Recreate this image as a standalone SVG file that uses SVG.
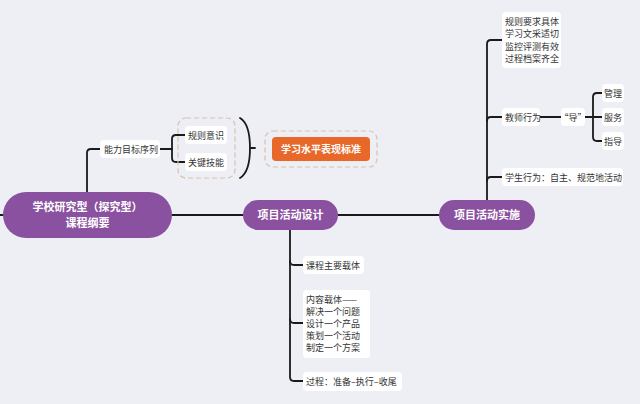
<svg xmlns="http://www.w3.org/2000/svg" width="640" height="404" viewBox="0 0 640 404">
<style>
.bg{fill:#eeeff4}
.pill{fill:#8a51a0}
.pt{font-family:"Noto Sans CJK SC",sans-serif;font-size:11px;font-weight:bold;fill:#fff;text-anchor:middle}
.lb{fill:#fff}
.t{font-family:"Noto Sans CJK SC",sans-serif;font-size:9px;fill:#333}
.c{fill:none;stroke:#1a1a1a;stroke-width:1.8;stroke-linecap:round}
.dash{fill:none;stroke:#d8c2ae;stroke-width:1.2;stroke-dasharray:5 3}
</style>
<rect class="bg" x="0" y="0" width="640" height="404"/>
<g id="connectors">
<path class="c" d="M0,215 H4"/>
<path class="c" d="M172,215 H243"/>
<path class="c" d="M338,215 H439"/>
<path class="c" d="M87,192 V153 Q87,149 91,149 H100"/>
<path class="c" d="M160,149 H172"/>
<path class="c" d="M185,135 H176 Q172,135 172,139 V158 Q172,162 176,162 H185"/>
<path class="c" d="M240,118 Q250,124 250,148 Q250,172 240,178"/>
<path class="c" d="M250,148 H255"/>
<path class="c" d="M487,200 V44 Q487,40 491,40 H502"/>
<path class="c" d="M487,121 Q487,117 491,117 H502"/>
<path class="c" d="M487,181 Q487,177 491,177 H502"/>
<path class="c" d="M540,117 H561"/>
<path class="c" d="M585,117 H602"/>
<path class="c" d="M602,93 H597 Q593,93 593,97 V137 Q593,141 597,141 H602"/>
<path class="c" d="M290,230 V377 Q290,381 294,381 H303"/>
<path class="c" d="M290,261 Q290,265 294,265 H303"/>
<path class="c" d="M290,319 Q290,323 294,323 H303"/>
</g>
<g id="root">
<rect class="pill" x="3" y="192" width="169" height="46" rx="23"/>
<text class="pt" x="87.5" y="211">学校研究型（探究型）</text>
<text class="pt" x="87.5" y="227">课程纲要</text>
</g>
<g id="design">
<rect class="pill" x="243" y="200" width="95" height="30" rx="15"/>
<text class="pt" x="290.5" y="219">项目活动设计</text>
</g>
<g id="implement">
<rect class="pill" x="439" y="200" width="96" height="30" rx="15"/>
<text class="pt" x="487" y="219">项目活动实施</text>
</g>
<g id="ability">
<rect class="lb" x="100" y="140" width="60" height="18" rx="4"/>
<text class="t" x="104" y="152.5">能力目标序列</text>
</g>
<g id="group-dashed">
<rect class="dash" x="178" y="118" width="57" height="60" rx="8"/>
</g>
<g id="rule">
<rect class="lb" x="185" y="126" width="42" height="18" rx="4"/>
<text class="t" x="188" y="138.5">规则意识</text>
</g>
<g id="skill">
<rect class="lb" x="185" y="153" width="42" height="18" rx="4"/>
<text class="t" x="188" y="165.5">关键技能</text>
</g>
<g id="standard">
<rect class="dash" x="265" y="131" width="112" height="36" rx="8"/>
<rect x="272" y="137" width="98" height="24" rx="4" fill="#e8682a"/>
<text x="321" y="152.5" font-family="Noto Sans CJK SC, sans-serif" font-size="10px" font-weight="bold" fill="#fff" text-anchor="middle">学习水平表现标准</text>
</g>
<g id="rules-list">
<rect class="lb" x="502" y="12" width="59" height="56" rx="4"/>
<text class="t" x="505" y="24.5">规则要求具体</text>
<text class="t" x="505" y="37">学习文采适切</text>
<text class="t" x="505" y="49.5">监控评测有效</text>
<text class="t" x="505" y="62">过程档案齐全</text>
</g>
<g id="teacher">
<rect class="lb" x="502" y="108" width="38" height="18" rx="4"/>
<text class="t" x="505" y="120.5">教师行为</text>
</g>
<g id="guide">
<rect class="lb" x="561" y="108" width="24" height="18" rx="4"/>
<text class="t" x="573" y="120.5" text-anchor="middle">“导”</text>
</g>
<g id="manage">
<rect class="lb" x="602" y="84" width="22" height="18" rx="4"/>
<text class="t" x="604" y="96.5">管理</text>
</g>
<g id="serve">
<rect class="lb" x="602" y="108" width="22" height="18" rx="4"/>
<text class="t" x="604" y="120.5">服务</text>
</g>
<g id="direct">
<rect class="lb" x="602" y="132" width="22" height="18" rx="4"/>
<text class="t" x="604" y="144.5">指导</text>
</g>
<g id="student">
<rect class="lb" x="502" y="168" width="121" height="18" rx="4"/>
<text class="t" x="505" y="180.5">学生行为：自主、规范地活动</text>
</g>
<g id="carrier">
<rect class="lb" x="303" y="256" width="61" height="18" rx="4"/>
<text class="t" x="306" y="268.5">课程主要载体</text>
</g>
<g id="content">
<rect class="lb" x="303" y="290" width="67" height="68" rx="4"/>
<text class="t" x="306" y="303">内容载体——</text>
<text class="t" x="306" y="315">解决一个问题</text>
<text class="t" x="306" y="327">设计一个产品</text>
<text class="t" x="306" y="339">策划一个活动</text>
<text class="t" x="306" y="351">制定一个方案</text>
</g>
<g id="process">
<rect class="lb" x="303" y="372" width="99" height="19" rx="4"/>
<text class="t" x="306" y="385">过程：准备–执行–收尾</text>
</g>
</svg>
